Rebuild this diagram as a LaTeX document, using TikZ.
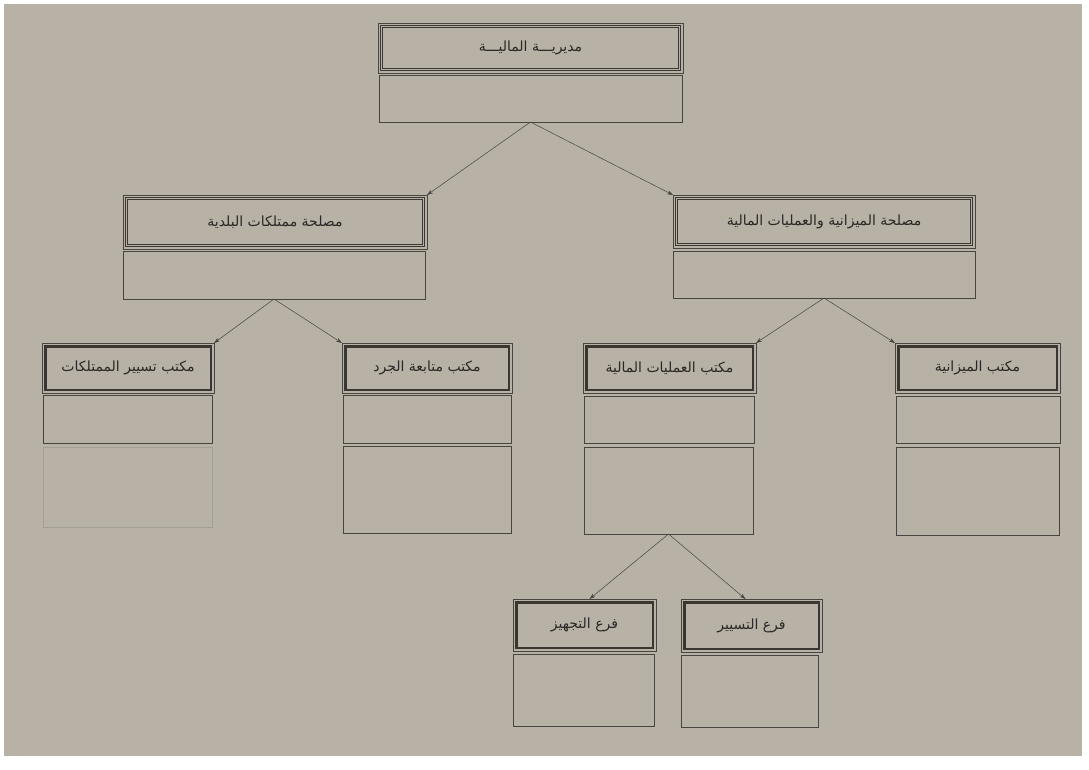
\documentclass[tikz,border=0pt]{standalone}
\usepackage{fontspec}
\usetikzlibrary{arrows.meta}
\TeXXeTstate=1
\newfontfamily\arabicfont[Script=Arabic]{DejaVu Sans}
\definecolor{paper}{RGB}{183,177,166}
\definecolor{linec}{RGB}{72,68,63}
\definecolor{darkl}{RGB}{58,54,50}
\definecolor{faint}{RGB}{163,158,150}
\definecolor{txtc}{RGB}{42,40,37}
\newcommand\HeadBox[6]{%
  \node[hdr, minimum width=#4pt, minimum height=#5pt] (#1) at (#2,#3) {#6};
  \draw[hdrin] ([shift={(3.2,3.2)}]#1.north west) rectangle ([shift={(-3.2,-3.2)}]#1.south east);
}
\newcommand\OffBox[6]{%
  \node[hdr, minimum width=#4pt, minimum height=#5pt] (#1) at (#2,#3) {#6};
  \draw[offin] ([shift={(3.2,3.2)}]#1.north west) rectangle ([shift={(-3.2,-3.2)}]#1.south east);
}
\newcommand\EmptyBox[5]{%
  \node[emptybox, minimum width=#4pt, minimum height=#5pt] (#1) at (#2,#3) {};
}
\begin{document}
\begin{tikzpicture}[x=1pt,y=-1pt,
  hdr/.style={draw=linec, line width=0.6pt, rectangle, inner sep=0pt, outer sep=0pt,
    font=\arabicfont\fontsize{14}{16}\selectfont, text=txtc},
  hdrin/.style={draw=darkl, line width=1.1pt, double=paper, double distance=0.9pt},
  offin/.style={draw=darkl, line width=2.6pt},
  emptybox/.style={draw=linec, line width=0.6pt, rectangle, inner sep=0pt, outer sep=0pt},
  faintbox/.style={draw=faint, line width=0.6pt, rectangle, inner sep=0pt, outer sep=0pt},
  arr/.style={draw=linec, line width=0.5pt, -{Stealth[length=6pt,width=4pt]}}]
\useasboundingbox (0,0) rectangle (1089,769);
\fill[white] (0,0) rectangle (1089,769);
\fill[paper] (4,4) rectangle (1082,756);

% top
\HeadBox{top}{530.5}{48}{305}{50}{\beginR مديريـــة الماليـــة\endR}
\EmptyBox{topE}{530.5}{98.5}{303}{47}

% middle level
\HeadBox{lm}{275}{222}{304}{54}{\beginR مصلحة ممتلكات البلدية\endR}
\EmptyBox{lmE}{274}{275}{302}{48}
\HeadBox{rm}{824}{221.5}{302}{53}{\beginR مصلحة الميزانية والعمليات المالية\endR}
\EmptyBox{rmE}{824}{274.5}{302}{47}

% offices
\OffBox{tas}{128}{368}{172}{50}{\beginR مكتب تسيير الممتلكات\endR}
\EmptyBox{tasE}{127.5}{419}{169}{48}
\node[faintbox, minimum width=169pt, minimum height=80pt] (tasF) at (127.5,487) {};

\OffBox{jard}{427}{368}{170}{50}{\beginR مكتب متابعة الجرد\endR}
\EmptyBox{jardE}{427}{419}{168}{48}
\EmptyBox{jardF}{427}{489.5}{168}{87}

\OffBox{amal}{669.5}{368}{173}{50}{\beginR مكتب العمليات المالية\endR}
\EmptyBox{amalE}{669}{419.5}{170}{47}
\EmptyBox{amalF}{668.5}{490.5}{169}{87}

\OffBox{miz}{977.5}{368}{165}{50}{\beginR مكتب الميزانية\endR}
\EmptyBox{mizE}{978}{419.5}{164}{47}
\EmptyBox{mizF}{977.5}{491}{163}{88}

% branches
\OffBox{taj}{584.5}{625}{143}{52}{\beginR فرع التجهيز\endR}
\EmptyBox{tajE}{583.5}{690}{141}{72}
\OffBox{tb}{751.5}{625.5}{141}{53}{\beginR فرع التسيير\endR}
\EmptyBox{tbE}{749.5}{691}{137}{72}

% connectors
\draw[arr] (topE.south) -- (lm.north east);
\draw[arr] (topE.south) -- (rm.north west);
\draw[arr] (lmE.south) -- (tas.north east);
\draw[arr] (lmE.south) -- (jard.north west);
\draw[arr] (rmE.south) -- (amal.north east);
\draw[arr] (rmE.south) -- (miz.north west);
\draw[arr] (amalF.south) -- ([xshift=5pt]taj.north);
\draw[arr] (amalF.south) -- ([xshift=-6pt]tb.north);
\end{tikzpicture}
\end{document}
